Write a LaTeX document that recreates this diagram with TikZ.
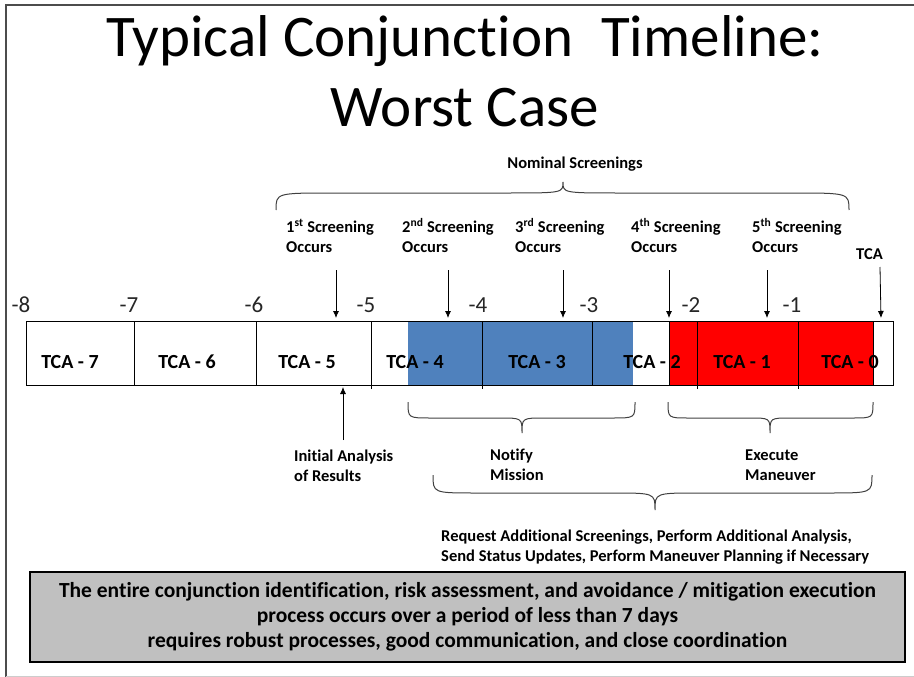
\documentclass[tikz,border=0pt]{standalone}
\usepackage{fontspec}
\setmainfont{Carlito}[Ligatures={CommonOff,ContextualOff}]
\usetikzlibrary{arrows.meta}

\definecolor{tlblue}{HTML}{4F81BD}
\definecolor{notegray}{HTML}{C0C0C0}

% curly brace: x left, x right, x tip, y ends, y flat, y tip
\newcommand{\Curly}[6]{%
  \pgfmathsetmacro{\dd}{0.1*(#2-#1)}%
  \draw[black!75, line width=1pt] (#1,#4) .. controls (#1,#5) .. (#1+\dd,#5) -- (#3-\dd,#5)
    .. controls (#3,#5) .. (#3,#6) .. controls (#3,#5) .. (#3+\dd,#5)
    -- (#2-\dd,#5) .. controls (#2,#5) .. (#2,#4);}

\begin{document}
\begin{tikzpicture}[x=1pt,y=-1pt,
    Cell/.style={font=\fontsize{20}{24}\selectfont\bfseries, anchor=base},
    Tick/.style={font=\fontsize{23}{28}\selectfont, anchor=base, text=black!85},
    Label/.style={font=\fontsize{16.5}{19.5}\selectfont\bfseries, align=left, anchor=base west, inner sep=0pt},
    Pointer/.style={-{Latex[length=7pt,width=6pt]}, line width=0.8pt},
  ]
  \useasboundingbox (0,0) rectangle (914,677);
  % slide frame
  \draw[black!70, line width=1.2pt] (6,677) -- (6,5) -- (914,5);
  \draw[black!20] (6,676) -- (914,676);

  \node[font=\fontsize{59}{71}\selectfont, anchor=base] (title1) at (465,57) {Typical Conjunction\hspace{0.25em} Timeline:};
  \node[font=\fontsize{59}{71}\selectfont, anchor=base] (title2) at (465,127) {Worst Case};

  % timeline
  \fill[tlblue] (408,321) rectangle (633,385);
  \fill[red] (669,321) rectangle (873,385);
  \draw (26,321) rectangle (893,385);
  \draw (669,321) rectangle (873,385);
  \foreach \x in {134,256,592} \draw (\x,321) -- (\x,385);
  \foreach \x in {371,482,697,798} \draw (\x,321) -- (\x,389);

  \foreach \x/\n in {70/7,187/6,307/5,415/4,537/3,652/2,742/1,850/0}
    \node[Cell] (tca\n) at (\x,368) {TCA - \n};
  \foreach \x/\n in {21/8,129/7,254/6,366/5,478/4,589/3,691/2,792/1}
    \node[Tick] (tick\n) at (\x,312) {-\n};

  % screenings
  \Curly{276}{849}{563}{210}{193}{182}
  \node[Label, anchor=base] (nominal) at (575,168) {Nominal Screenings};
  \foreach \x/\n/\s in {286/1/st,402/2/nd,515/3/rd,631/4/th,752/5/th}
    \node[Label] (scr\n) at (\x,252) {\n\textsuperscript{\s} Screening\\Occurs};
  \foreach \x [count=\i] in {336,448,563,669,767} {
    \coordinate (drop\i) at (\x,270);
    \coordinate (hit\i) at (\x,318);
    \draw[Pointer] (drop\i) -- (hit\i);
  }
  \node[Label] (tcaend) at (856,259) {TCA};
  \coordinate (tcadrop) at (880,267);
  \coordinate (tcahit) at (881,318);
  \draw[Pointer] (tcadrop) -- (tcahit);

  % below the timeline
  \node[Label] (initial) at (294,481) {Initial Analysis\\of Results};
  \coordinate (initrise) at (343,440);
  \coordinate (inithit) at (343,387);
  \draw[Pointer] (initrise) -- (inithit);

  \Curly{408}{635}{522}{402}{418}{433}
  \Curly{668}{873}{770}{402}{418}{433}
  \node[Label] (notify) at (490,480) {Notify\\Mission};
  \node[Label] (execute) at (745,480) {Execute\\Maneuver};

  \Curly{433}{872}{655}{475}{493}{510}
  \node[Label] (request) at (441,561) {Request Additional Screenings, Perform Additional Analysis,\\Send Status Updates, Perform Maneuver Planning if Necessary};

  \node[draw, line width=2.5pt, fill=notegray, minimum width=875pt, minimum height=90pt,
    align=center, font=\fontsize{21.5}{25}\selectfont\bfseries] (summary) at (467.5,617)
    {The entire conjunction identification, risk assessment, and avoidance / mitigation execution\\
     process occurs over a period of less than 7 days\\
     requires robust processes, good communication, and close coordination};
\end{tikzpicture}
\end{document}
